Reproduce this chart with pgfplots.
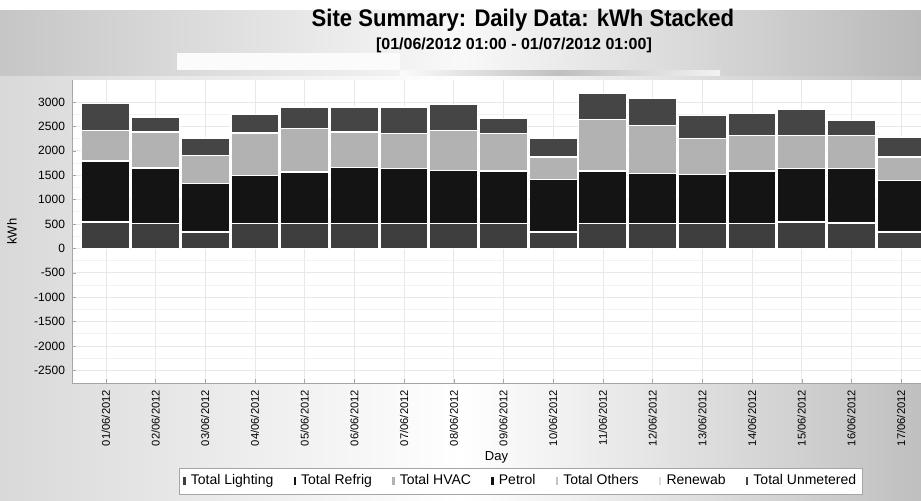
\documentclass[border=0pt]{standalone}
\usepackage{pgfplots}
\pgfplotsset{compat=1.18}
\usepackage{pgfplotstable}
\usepackage{fontspec}
\setmainfont{Liberation Sans}
\definecolor{cLight}{HTML}{3E3E3E}
\definecolor{cRefrig}{HTML}{141414}
\definecolor{cHVAC}{HTML}{B2B2B2}
\definecolor{cPetrol}{HTML}{101010}
\definecolor{cOthers}{HTML}{C4C4C4}
\definecolor{cRenew}{HTML}{DDDDDD}
\definecolor{cUnmet}{HTML}{454545}
\pgfplotstableread{
day L R H P O N U
0 540 1250 629 0 0 0 547
1 506 1141 738 0 0 0 295
2 335 991 581 0 0 0 355
3 506 991 867 0 0 0 376
4 506 1059 888 0 0 0 444
5 506 1148 731 0 0 0 512
6 506 1127 717 0 0 0 547
7 506 1093 820 0 0 0 533
8 506 1079 765 0 0 0 308
9 335 1073 464 0 0 0 376
10 506 1079 1053 0 0 0 534
11 506 1025 990 0 0 0 547
12 506 1004 738 0 0 0 478
13 506 1079 731 0 0 0 445
14 540 1093 683 0 0 0 527
15 520 1113 683 0 0 0 308
16 335 1059 478 0 0 0 410
}\data
\begin{document}
\begin{tikzpicture}[x=0.5pt,y=0.5pt]
\useasboundingbox (0,0) rectangle (921,500);
\shade[left color=gray!30, right color=gray!50, middle color=white] (0,0) rectangle (921,500);
\fill[white] (0,490) rectangle (921,500);
\shade[left color=gray!45, right color=gray!55, middle color=white!95!gray] (0,425) rectangle (921,490);
\fill[white!97!gray] (177,430) rectangle (400,447);
\shade[left color=white!97!gray, right color=white!90!gray, middle color=gray!50] (400,425) rectangle (720,430);
\node[font=\bfseries\fontsize{12}{13}\selectfont] at (523,480) {\scalebox{0.92}[1]{Site Summary: Daily Data: kWh Stacked}};
\node[font=\bfseries\fontsize{8}{9}\selectfont] at (514,455) {[01/06/2012 01:00 - 01/07/2012 01:00]};
\begin{axis}[at={(36pt,58.5pt)}, anchor=south west, scale only axis,
  width=424.5pt, height=151.5pt,
  ybar stacked, bar width=24pt,
  xmin=-0.68, xmax=16.4, ymin=-2760, ymax=3450,
  axis background/.style={fill=white},
  axis x line*=bottom, axis y line*=left,
  axis line style={-, gray!70},
  xtick={0,...,16},
  xticklabels={01/06/2012,02/06/2012,03/06/2012,04/06/2012,05/06/2012,06/06/2012,07/06/2012,08/06/2012,09/06/2012,10/06/2012,11/06/2012,12/06/2012,13/06/2012,14/06/2012,15/06/2012,16/06/2012,17/06/2012},
  x tick label style={rotate=90, anchor=east, font=\fontsize{5.6}{6}\selectfont},
  ytick={-2500,-2000,...,3000},
  y tick label style={font=\fontsize{6}{7}\selectfont},
  /pgf/number format/assume math mode=true,
  /pgf/number format/1000 sep={},
  minor y tick num=1,
  ymajorgrids, xmajorgrids, yminorgrids,
  major grid style={gray!18, line width=0.3pt},
  minor grid style={gray!10, line width=0.3pt},
  major tick length=2pt, minor tick length=0pt,
  tick style={gray!70},
  xlabel={Day}, ylabel={kWh},
  xlabel style={font=\fontsize{6.5}{7}\selectfont, yshift=4pt},
  ylabel style={font=\fontsize{6.5}{7}\selectfont, yshift=2pt},
  legend columns=7,
  legend style={at={(0.529,-0.324)}, anchor=center, draw=gray!70, fill=white,
    font=\fontsize{7}{8}\selectfont, inner sep=1.2pt,
    /tikz/every even column/.append style={column sep=7.5pt}},
  legend image code/.code={\fill[#1] (0pt,-2.2pt) rectangle (1.8pt,2.6pt);},
  every axis plot/.append style={draw=white, line width=0.6pt},
]
\addplot[fill=cLight] table[x=day,y=L]{\data};
\addplot[fill=cRefrig] table[x=day,y=R]{\data};
\addplot[fill=cHVAC] table[x=day,y=H]{\data};
\addplot[fill=cPetrol] table[x=day,y=P]{\data};
\addplot[fill=cOthers] table[x=day,y=O]{\data};
\addplot[fill=cRenew] table[x=day,y=N]{\data};
\addplot[fill=cUnmet] table[x=day,y=U]{\data};
\legend{Total Lighting, Total Refrig, Total HVAC, Petrol, Total Others, Renewab, Total Unmetered}
\end{axis}
\end{tikzpicture}
\end{document}
